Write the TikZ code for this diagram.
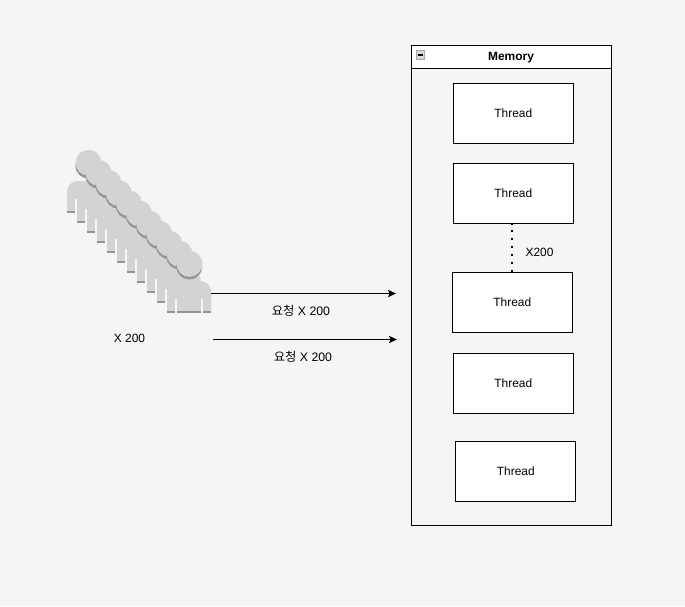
\documentclass[tikz,border=0pt]{standalone}
\usepackage{fontspec}
\setmainfont{Liberation Sans}
\newfontfamily\cjk{Noto Sans CJK KR}
\usetikzlibrary{arrows.meta}
\definecolor{pagebg}{HTML}{F5F5F5}
\definecolor{usergray}{HTML}{D2D3D3}
\definecolor{usershade}{HTML}{949494}
\tikzset{
    threadbox/.style={rectangle, draw, fill=white, line width=0.57pt, minimum width=2.4cm, minimum height=1.2cm, inner sep=0pt},
    lane/.style={rectangle, draw, line width=0.57pt, minimum width=4cm, inner sep=0pt},
    caption/.style={inner sep=0pt},
    request/.style={-{Stealth[length=4.6pt,width=4.2pt,inset=1pt]}, line width=0.57pt}
}
\begin{document}
\begin{tikzpicture}[x=0.02cm, y=-0.02cm, font=\fontsize{6.8}{8}\selectfont]
    % Background
    \fill[pagebg] (0,0) rectangle (685,606);
    \useasboundingbox (0,0) rectangle (685,606);

    % Draw users
    \foreach \i in {0,...,10} {
        \begin{scope}[shift={({10*\i},{10*\i})}]
            \fill[usershade] ({88.3+0.1*\i},{165.5+0.1*\i}) circle (13);
            \fill[usergray] ({88.5+0.1*\i},{162.8+0.1*\i}) circle (13);
            \fill[usergray] (67,211) -- (67,192) .. controls (67,185) and (72,181) .. (78,181) -- (100,181) .. controls (106,181) and (111,185) .. (111,192) -- (111,211) -- cycle;
            \fill[usershade] (67,210.7) rectangle (111,213.4);
            \fill[pagebg] (75.2,199) rectangle (76.5,214);
            \fill[pagebg] (101.2,199) rectangle (102.5,214);
        \end{scope}
    }

    % Draw memory lane
    \node[lane, minimum height=9.6cm] (memory) at (511.5,285.5) {};
    \node[lane, fill=white, minimum height=0.46cm] (memhead) at (511.5,57) {};
    \node[caption, font=\fontsize{6.8}{8}\selectfont\bfseries] (memlabel) at (511,57.5) {Memory};
    \node[rectangle, draw=gray!70, fill=gray!30, line width=0.5pt, minimum size=0.17cm, inner sep=0pt] (fold) at (420.5,55) {};
    \draw[line width=0.7pt] ([xshift=1pt]fold.west) -- ([xshift=-1pt]fold.east);

    % Draw threads
    \node[threadbox] (thread1) at (513.25,113.5) {Thread};
    \node[threadbox] (thread2) at (513.25,193.5) {Thread};
    \node[threadbox] (thread3) at (512.25,302.5) {Thread};
    \node[threadbox] (thread4) at (513.25,383.5) {Thread};
    \node[threadbox] (thread5) at (515.75,471.5) {Thread};

    % Draw connections
    \draw[line width=1.13pt, dash pattern=on 1.13pt off 3.4pt] (thread3.north) -- (thread3.north |- thread2.south);
    \coordinate (req1start) at (211,293.5);
    \coordinate (req1end) at (396,293.5);
    \coordinate (req2start) at (213,339.5);
    \coordinate (req2end) at (397,339.5);
    \draw[request] (req1start) -- (req1end);
    \draw[request] (req2start) -- (req2end);

    % Labels
    \node[caption, font=\fontsize{7}{8}\selectfont] (req1label) at (301,310.5) {{\cjk 요청} X 200};
    \node[caption, font=\fontsize{7}{8}\selectfont] (req2label) at (303,356.5) {{\cjk 요청} X 200};
    \node[caption] (userlabel) at (129.5,338) {X 200};
    \node[caption] (threadlabel) at (539.5,252) {X200};
\end{tikzpicture}
\end{document}
